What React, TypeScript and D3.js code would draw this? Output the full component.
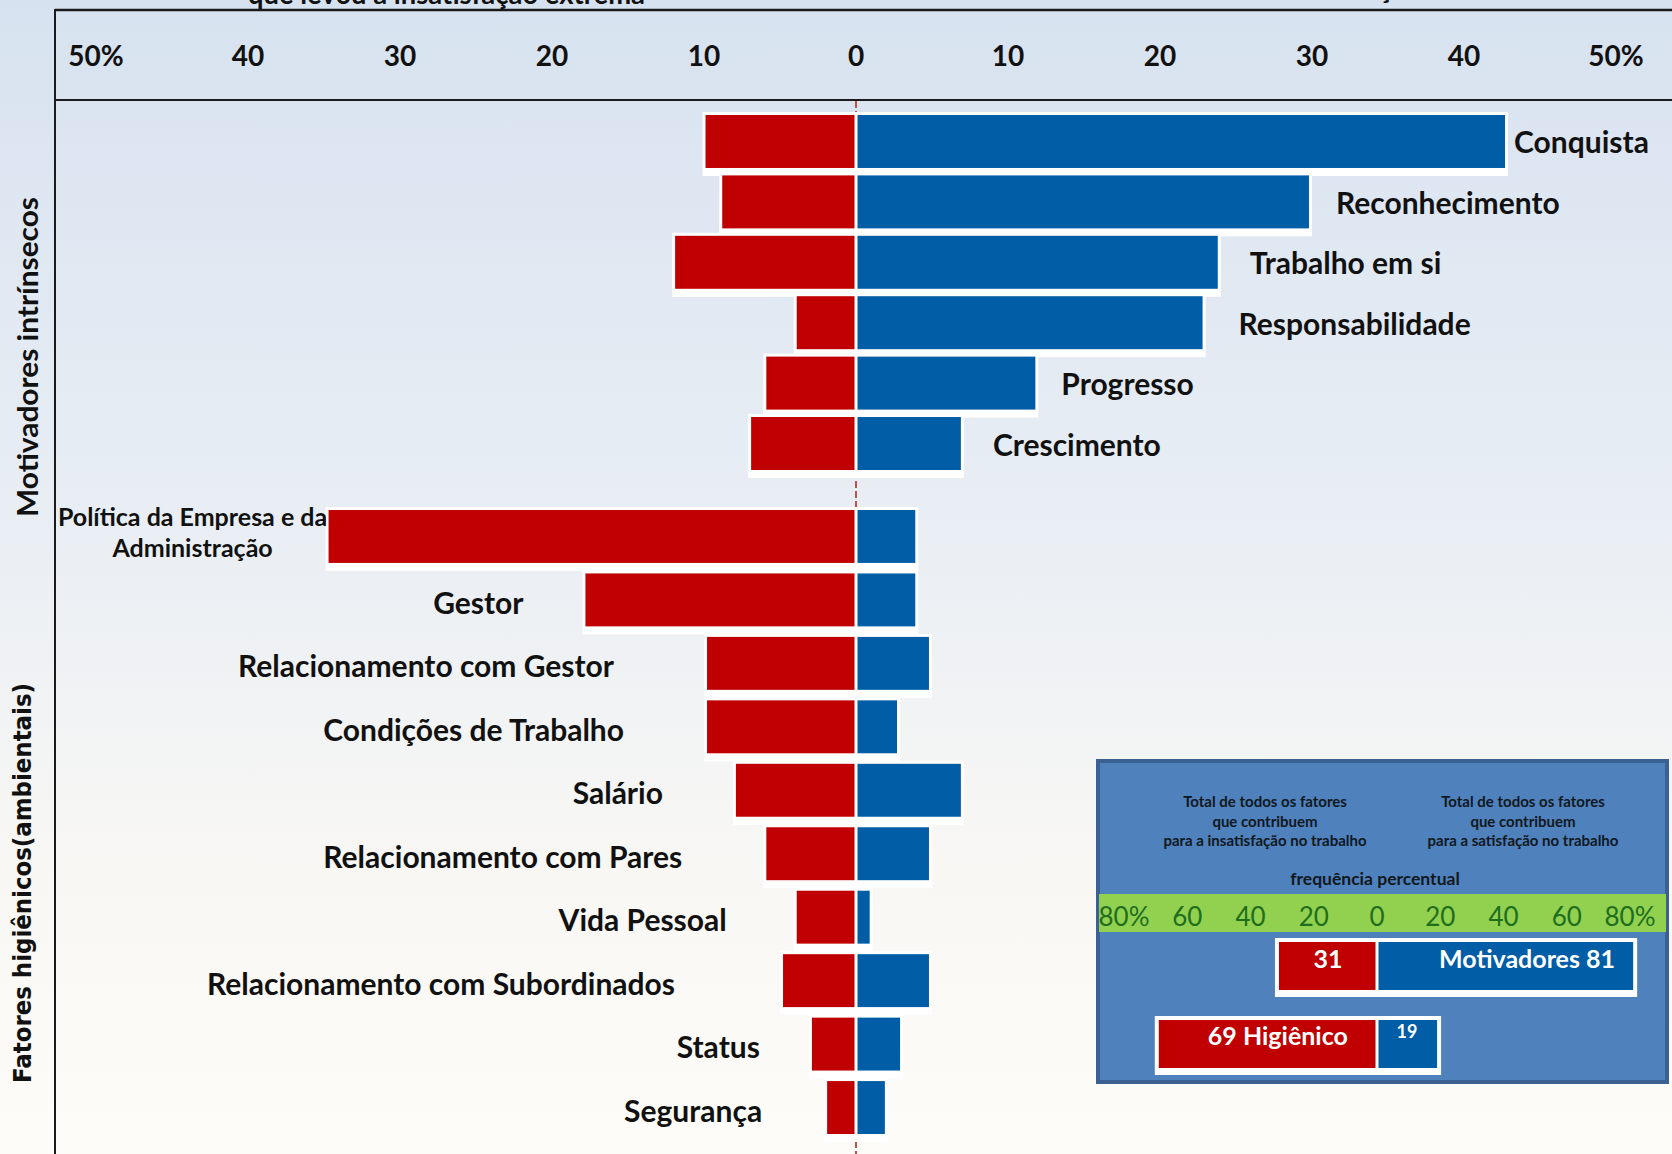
import React from "react";
import * as d3 from "d3";

// ---------- data ----------
const motivators = ["Conquista", "Reconhecimento", "Trabalho em si", "Responsabilidade", "Progresso", "Crescimento"];
const motivatorsDissatisfaction = [9.9, 8.8, 11.9, 3.9, 5.9, 6.9];
const motivatorsSatisfaction = [42.7, 29.8, 23.8, 22.8, 11.8, 6.9];

const hygiene = [
  "Política da Empresa e da\nAdministração",
  "Gestor",
  "Relacionamento com Gestor",
  "Condições de Trabalho",
  "Salário",
  "Relacionamento com Pares",
  "Vida Pessoal",
  "Relacionamento com Subordinados",
  "Status",
  "Segurança",
];
const hygieneDissatisfaction = [34.7, 17.8, 9.8, 9.8, 7.9, 5.9, 3.9, 4.8, 2.9, 1.9];
const hygieneSatisfaction = [3.9, 3.9, 4.8, 2.7, 6.9, 4.8, 0.9, 4.8, 2.9, 1.9];

const mainTicks = [-50, -40, -30, -20, -10, 0, 10, 20, 30, 40, 50];

const insetRows = ["Motivadores", "Higiênico"];
const insetDissatisfaction = [31, 69];
const insetSatisfaction = [81, 19];
const insetTicks = [-80, -60, -40, -20, 0, 20, 40, 60, 80];

const groupTitles = ["Motivadores intrínsecos", "Fatores higiênicos(ambientais)"];

// ---------- layout (style only) ----------
const W = 1672;
const H = 1154;
const RED = "#c00000";
const BLUE = "#005da6";
const FONT = "Lato, 'Open Sans', sans-serif";
// label gaps per row (px)
const motivLabelGap = [9, 27, 32, 36, 26, 32];
const hygLabelGap = [2, 62, 93, 83, 73, 84, 70, 108, 52, 65];

export default function App() {
  const x = d3.scaleLinear().domain([-50, 50]).range([96, 1616]);
  const yMot = d3.scaleBand<string>().domain(motivators).range([115, 470]).paddingInner(0.123).paddingOuter(0);
  const yHyg = d3.scaleBand<string>().domain(hygiene).range([510, 1134]).paddingInner(0.166).paddingOuter(0);

  const xi = d3.scaleLinear().domain([-80, 80]).range([1124, 1630]);
  const yIn = d3.scaleBand<string>().domain(insetRows).range([942, 1068]).paddingInner(0.385).paddingOuter(0);

  const zero = x(0);

  const renderRow = (
    cat: string,
    red: number,
    blue: number,
    y: d3.ScaleBand<string>,
    key: string
  ) => {
    const top = y(cat)!;
    const h = y.bandwidth();
    const xl = x(-red);
    const xr = x(blue);
    return (
      <g key={key}>
        <rect x={xl - 3} y={top - 3} width={xr - xl + 6} height={h + 11} fill="#ffffff" />
        <rect x={xl} y={top} width={zero - 1.5 - xl} height={h} fill={RED} />
        <rect x={zero + 1.5} y={top} width={xr - zero - 1.5} height={h} fill={BLUE} />
      </g>
    );
  };

  return (
    <svg width={W} height={H} style={{ position: "absolute", left: 0, top: 0 }} fontFamily={FONT}>
      <defs>
        <linearGradient id="bg" x1="0" y1="0" x2="0" y2="1">
          <stop offset="0%" stopColor="#d7e2f0" />
          <stop offset="45%" stopColor="#e9eef4" />
          <stop offset="75%" stopColor="#f8f7f4" />
          <stop offset="100%" stopColor="#fdfcf8" />
        </linearGradient>
      </defs>
      <rect x={0} y={0} width={W} height={H} fill="url(#bg)" />

      {/* cut-off titles (cropped at the top edge, as in the original) */}
      <text x={248} y={4} fontSize={28} fontWeight={700} fill="#111" textLength={397} lengthAdjust="spacingAndGlyphs">
        que levou à insatisfação extrema
      </text>
      <text x={1422} y={-2} fontSize={28} fontWeight={700} fill="#111" textAnchor="end">
        satisfação
      </text>

      {/* frame */}
      <line x1={55} x2={W} y1={10} y2={10} stroke="#1b1b1b" strokeWidth={2.5} />
      <line x1={55} x2={W} y1={100} y2={100} stroke="#1b1b1b" strokeWidth={2} />
      <line x1={55} x2={55} y1={9} y2={H} stroke="#1b1b1b" strokeWidth={2} />

      {/* top axis labels */}
      {mainTicks.map((t) => (
        <text
          key={t}
          x={x(t)}
          y={55}
          fontSize={28}
          fontWeight={700}
          fill="#111"
          textAnchor="middle"
          dominantBaseline="central"
        >
          {Math.abs(t) === 50 ? `${Math.abs(t)}%` : Math.abs(t)}
        </text>
      ))}

      {/* center line */}
      <line x1={zero} x2={zero} y1={101} y2={H} stroke="#c0504d" strokeWidth={2} strokeDasharray="7 3" />

      {/* bars */}
      {motivators.map((c, i) => renderRow(c, motivatorsDissatisfaction[i], motivatorsSatisfaction[i], yMot, "m" + i))}
      {hygiene.map((c, i) => renderRow(c, hygieneDissatisfaction[i], hygieneSatisfaction[i], yHyg, "h" + i))}

      {/* motivator labels */}
      {motivators.map((c, i) => (
        <text
          key={"ml" + i}
          x={x(motivatorsSatisfaction[i]) + motivLabelGap[i]}
          y={yMot(c)! + yMot.bandwidth() / 2}
          fontSize={30}
          fontWeight={700}
          fill="#111"
          dominantBaseline="central"
        >
          {c}
        </text>
      ))}

      {/* hygiene labels */}
      {hygiene.map((c, i) => {
        const lines = c.split("\n");
        const cy = yHyg(c)! + yHyg.bandwidth() / 2;
        const xEnd = x(-hygieneDissatisfaction[i]) - hygLabelGap[i];
        if (lines.length > 1) {
          const cx = xEnd - 134;
          return (
            <g key={"hl" + i}>
              {lines.map((l, j) => (
                <text
                  key={j}
                  x={cx}
                  y={cy - 20 + j * 31}
                  fontSize={25}
                  fontWeight={700}
                  fill="#111"
                  textAnchor="middle"
                  dominantBaseline="central"
                >
                  {l}
                </text>
              ))}
            </g>
          );
        }
        return (
          <text
            key={"hl" + i}
            x={xEnd}
            y={cy + 2}
            fontSize={30}
            fontWeight={700}
            fill="#111"
            textAnchor="end"
            dominantBaseline="central"
          >
            {c}
          </text>
        );
      })}

      {/* group titles */}
      <text
        transform="translate(27,357) rotate(-90)"
        fontSize={28}
        fontWeight={700}
        fill="#111"
        textAnchor="middle"
        dominantBaseline="central"
        textLength={320}
        lengthAdjust="spacingAndGlyphs"
      >
        {groupTitles[0]}
      </text>
      <text
        transform="translate(23,883) rotate(-90)"
        fontSize={24}
        fontWeight={700}
        fontFamily="'DejaVu Sans', Verdana, sans-serif"
        fill="#111"
        textAnchor="middle"
        dominantBaseline="central"
        textLength={400}
        lengthAdjust="spacingAndGlyphs"
      >
        {groupTitles[1]}
      </text>

      {/* inset */}
      <g>
        <rect x={1098} y={761} width={569} height={321} fill="#4f81bd" stroke="#3a6192" strokeWidth={4} />
        {[
          ["Total de todos os fatores", "que contribuem", "para a insatisfação no trabalho", 1265],
          ["Total de todos os fatores", "que contribuem", "para a satisfação no trabalho", 1523],
        ].map((blk, bi) => (
          <g key={"blk" + bi}>
            {(blk.slice(0, 3) as string[]).map((l, j) => (
              <text
                key={j}
                x={blk[3] as number}
                y={801 + j * 19.5}
                fontSize={15}
                fontWeight={700}
                fill="#101820"
                textAnchor="middle"
                dominantBaseline="central"
              >
                {l}
              </text>
            ))}
          </g>
        ))}
        <text x={1375} y={878} fontSize={17.5} fontWeight={700} fill="#101820" textAnchor="middle" dominantBaseline="central">
          frequência percentual
        </text>
        <rect x={1099} y={894} width={567} height={38} fill="#92d050" />
        {insetTicks.map((t) => (
          <text
            key={"it" + t}
            x={xi(t)}
            y={916}
            fontSize={26}
            fill="#1e6e1e"
            textAnchor="middle"
            dominantBaseline="central"
          >
            {Math.abs(t) === 80 ? `${Math.abs(t)}%` : Math.abs(t)}
          </text>
        ))}
        {insetRows.map((r, i) => {
          const top = yIn(r)!;
          const h = yIn.bandwidth();
          const xl = xi(-insetDissatisfaction[i]);
          const xr = xi(insetSatisfaction[i]);
          const z = xi(0);
          return (
            <g key={"ib" + i}>
              <rect x={xl - 4} y={top - 4} width={xr - xl + 8} height={h + 11} fill="#ffffff" />
              <rect x={xl} y={top} width={z - 1.5 - xl} height={h} fill={RED} />
              <rect x={z + 1.5} y={top} width={xr - z - 1.5} height={h} fill={BLUE} />
            </g>
          );
        })}
        <text
          x={(xi(-insetDissatisfaction[0]) + xi(0)) / 2}
          y={yIn(insetRows[0])! + 16}
          fontSize={25}
          fontWeight={700}
          fill="#fff"
          textAnchor="middle"
          dominantBaseline="central"
        >
          {insetDissatisfaction[0]}
        </text>
        <text
          x={(xi(0) + xi(insetSatisfaction[0])) / 2 + 22}
          y={yIn(insetRows[0])! + 16}
          fontSize={25}
          fontWeight={700}
          fill="#fff"
          textAnchor="middle"
          dominantBaseline="central"
        >
          {`${insetRows[0]} ${insetSatisfaction[0]}`}
        </text>
        <text
          x={(xi(-insetDissatisfaction[1]) + xi(0)) / 2 + 10}
          y={yIn(insetRows[1])! + 15}
          fontSize={25}
          fontWeight={700}
          fill="#fff"
          textAnchor="middle"
          dominantBaseline="central"
        >
          {`${insetDissatisfaction[1]} ${insetRows[1]}`}
        </text>
        <text
          x={(xi(0) + xi(insetSatisfaction[1])) / 2}
          y={yIn(insetRows[1])! + 11}
          fontSize={18}
          fontWeight={700}
          fill="#fff"
          textAnchor="middle"
          dominantBaseline="central"
        >
          {insetSatisfaction[1]}
        </text>
      </g>
    </svg>
  );
}
